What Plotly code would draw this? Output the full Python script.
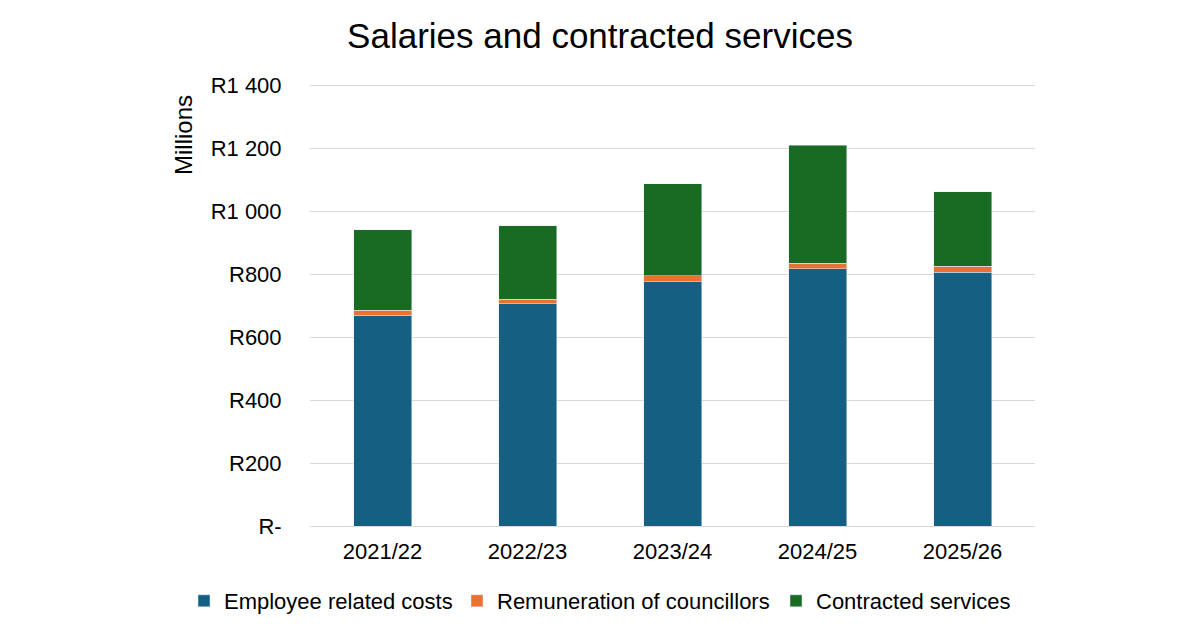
import plotly.graph_objects as go

years = ["2021/22", "2022/23", "2023/24", "2024/25", "2025/26"]
employee = [670, 706, 777, 817, 807]
councillors = [16, 15, 18, 19, 18]
contracted = [255, 233, 293, 374, 237]

tick_vals = [0, 200, 400, 600, 800, 1000, 1200, 1400]
tick_text = ["R-", "R200", "R400", "R600", "R800", "R1 000", "R1 200", "R1 400"]

L, R, T, B = 310, 165, 84, 104
W, H = 1200, 630
pw = W - L - R
ph = H - T - B

fig = go.Figure()
fig.add_bar(x=years, y=employee, name="Employee related costs", marker_color="#156082", legend="legend")
fig.add_bar(x=years, y=councillors, name="Remuneration of councillors", marker_color="#E97132", legend="legend2")
fig.add_bar(x=years, y=contracted, name="Contracted services", marker_color="#196B24", legend="legend3")

def leg(px):
    return dict(orientation="h", xref="container", yref="container",
                x=px / W, xanchor="left", y=1 - 601 / H, yanchor="middle",
                font=dict(size=22), itemwidth=30, bgcolor="rgba(0,0,0,0)")

fig.update_layout(
    barmode="stack",
    bargap=0.6,
    width=W, height=H,
    margin=dict(l=L, r=R, t=T, b=B, autoexpand=False),
    paper_bgcolor="white", plot_bgcolor="white",
    font=dict(family="Liberation Sans, Arial, sans-serif", color="#000000", size=22),
    title=dict(text="Salaries and contracted services", x=0.5, xanchor="center",
               y=1 - 36 / H, yanchor="middle", font=dict(size=35, color="#000000")),
    showlegend=True,
    legend=leg(184),
    legend2=leg(457),
    legend3=leg(776),
    yaxis=dict(range=[0, 1405], tickvals=tick_vals, ticktext=tick_text,
               showgrid=True, gridcolor="#d9d9d9", gridwidth=1, zeroline=False,
               ticks="outside", ticklen=23, tickcolor="rgba(0,0,0,0)",
               tickfont=dict(size=22), showline=False),
    xaxis=dict(showline=True, linecolor="#d9d9d9", linewidth=1,
               ticks="outside", ticklen=6, tickcolor="rgba(0,0,0,0)",
               tickfont=dict(size=22), showgrid=False),
    annotations=[dict(text="Millions", textangle=-90,
                      x=(183 - L) / pw, y=(H - B - 135) / ph,
                      xref="paper", yref="paper", xanchor="center", yanchor="middle",
                      showarrow=False, font=dict(size=24))],
)

fig.write_html("out.html")
